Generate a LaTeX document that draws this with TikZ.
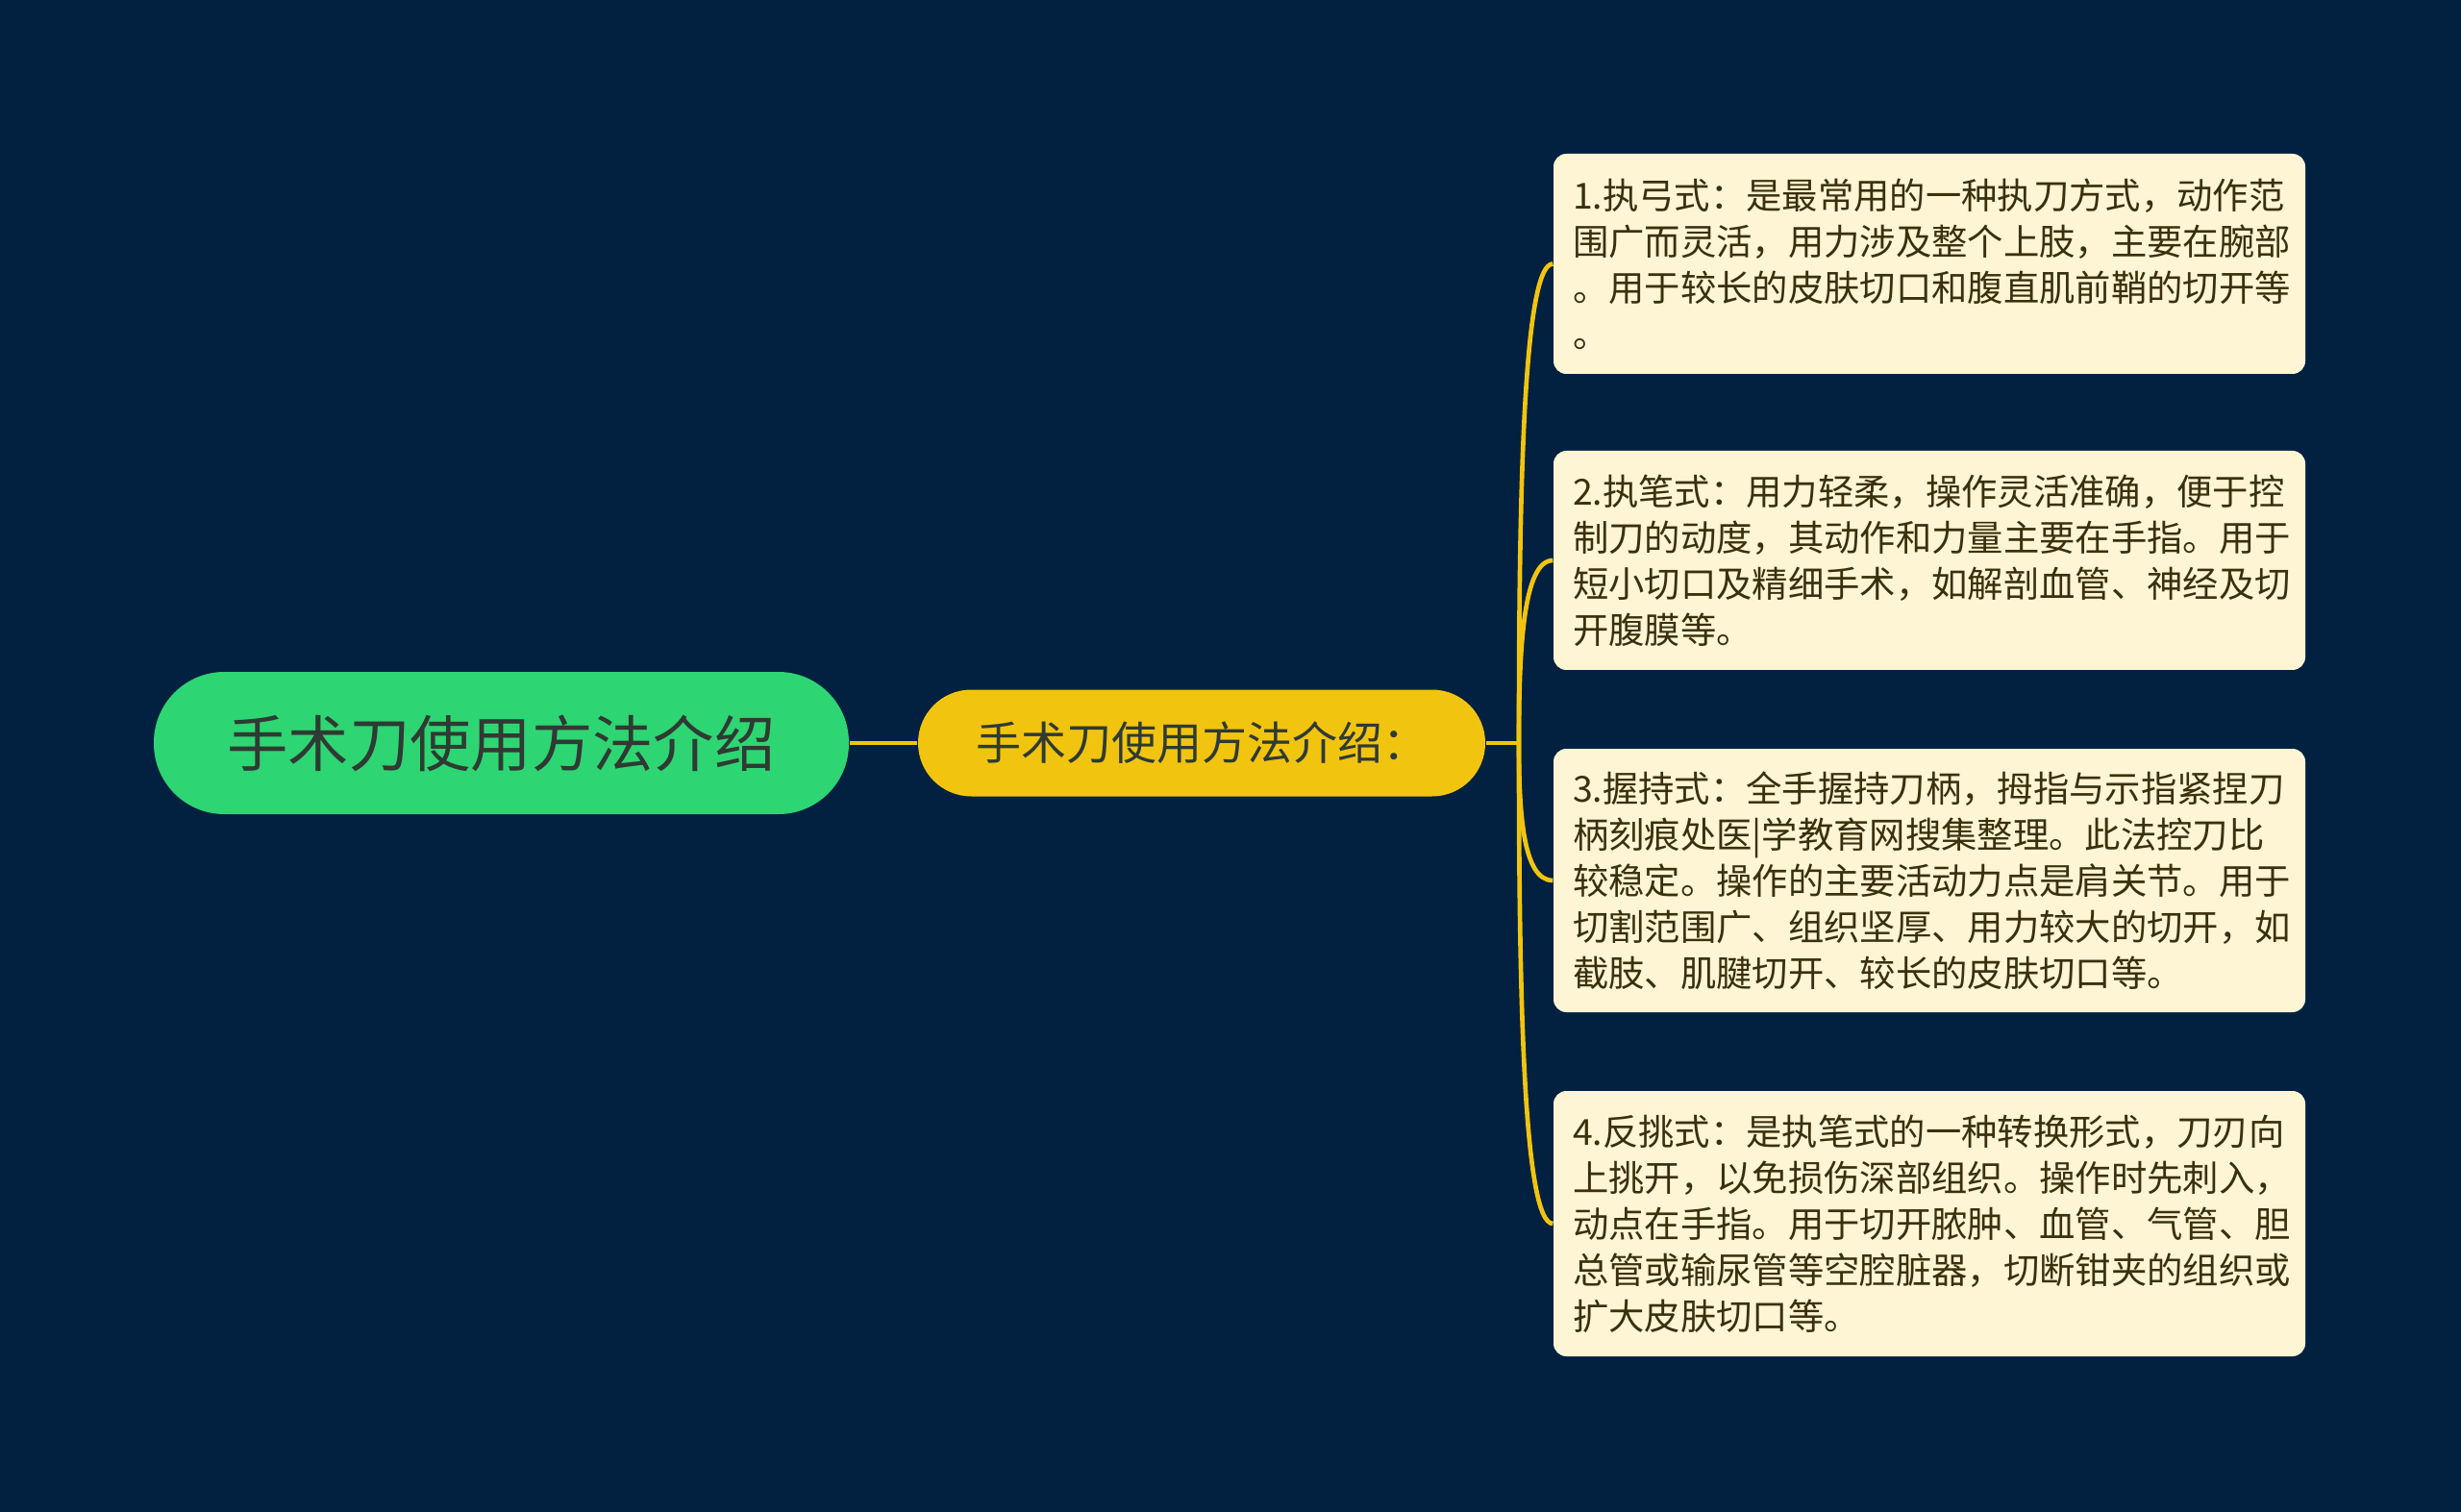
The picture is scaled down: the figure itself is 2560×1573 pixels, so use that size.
\documentclass[tikz,border=0pt]{standalone}
\usepackage{fontspec}
\newfontfamily\cjk{Noto Sans CJK SC}
\definecolor{bgc}{HTML}{022140}
\definecolor{rootc}{HTML}{2ED573}
\definecolor{midc}{HTML}{F1C40F}
\definecolor{leafc}{HTML}{FDF5D3}
\definecolor{leaftext}{HTML}{3B300C}
\definecolor{roottext}{HTML}{2F3A33}
\definecolor{linec}{HTML}{F1C40F}
\tikzset{
  rootbox/.style={fill=rootc, rounded corners=22pt, minimum width=216.9pt, minimum height=44.4pt, inner sep=0pt,
    font=\cjk\fontsize{19}{22}\selectfont, text=roottext},
  midbox/.style={fill=midc, rounded corners=16.6pt, minimum width=177pt, minimum height=33.3pt, inner sep=0pt,
    font=\cjk\fontsize{14.1}{17}\selectfont, text=roottext},
  leafbox/.style={fill=leafc, rounded corners=4pt, minimum width=234.6pt, inner xsep=6pt, inner ysep=0pt,
    text width=222.6pt, align=left, font=\cjk\fontsize{11.2}{14.4}\selectfont, text=leaftext},
  conn/.style={draw=linec, line width=1.4pt}
}
\begin{document}
\begin{tikzpicture}[x=0.3pt, y=-0.3pt]
\fill[bgc] (0,0) rectangle (2560,1573);
\useasboundingbox (0,0) rectangle (2560,1573);

\node[rootbox] (root) at (521.5,773) {手术刀使用方法介绍};
\node[midbox] (mid) at (1250,773) {手术刀使用方法介绍：};

\node[leafbox, minimum height=68.7pt] (l1) at (2007,274.5) {1.执弓式：是最常用的一种执刀方式，动作范\\围广而灵活，用力涉及整个上肢，主要在腕部\\。用于较长的皮肤切口和腹直肌前鞘的切开等\\。};
\node[leafbox, minimum height=68.4pt] (l2) at (2007,583) {2.执笔式：用力轻柔，操作灵活准确，便于控\\制刀的动度，其动作和力量主要在手指。用于\\短小切口及精细手术，如解剖血管、神经及切\\开腹膜等。};
\node[leafbox, minimum height=82.2pt] (l3) at (2007,916) {3.握持式：全手握持刀柄，拇指与示指紧捏刀\\柄刻痕处医|学教育网搜集整理。此法控刀比\\较稳定。操作的主要活动力点是肩关节。用于\\切割范围广、组织坚厚、用力较大的切开，如\\截肢、肌腱切开、较长的皮肤切口等。};
\node[leafbox, minimum height=82.8pt] (l4) at (2007,1273) {4.反挑式：是执笔式的一种转换形式，刀刃向\\上挑开，以免损伤深部组织。操作时先刺入，\\动点在手指。用于切开脓肿、血管、气管、胆\\总管或输尿管等空腔脏器，切断钳夹的组织或\\扩大皮肤切口等。};

\coordinate (j) at (1580,773);
\draw[conn] (root.east) -- (mid.west);
\draw[conn] (mid.east) -- (j);
\draw[conn] (j) .. controls (1580,523) and (1584,274.5) .. (l1.west);
\draw[conn] (j) .. controls (1580,678) and (1584,583) .. (l2.west);
\draw[conn] (j) .. controls (1580,845) and (1584,916) .. (l3.west);
\draw[conn] (j) .. controls (1580,1023) and (1584,1273) .. (l4.west);
\end{tikzpicture}
\end{document}
